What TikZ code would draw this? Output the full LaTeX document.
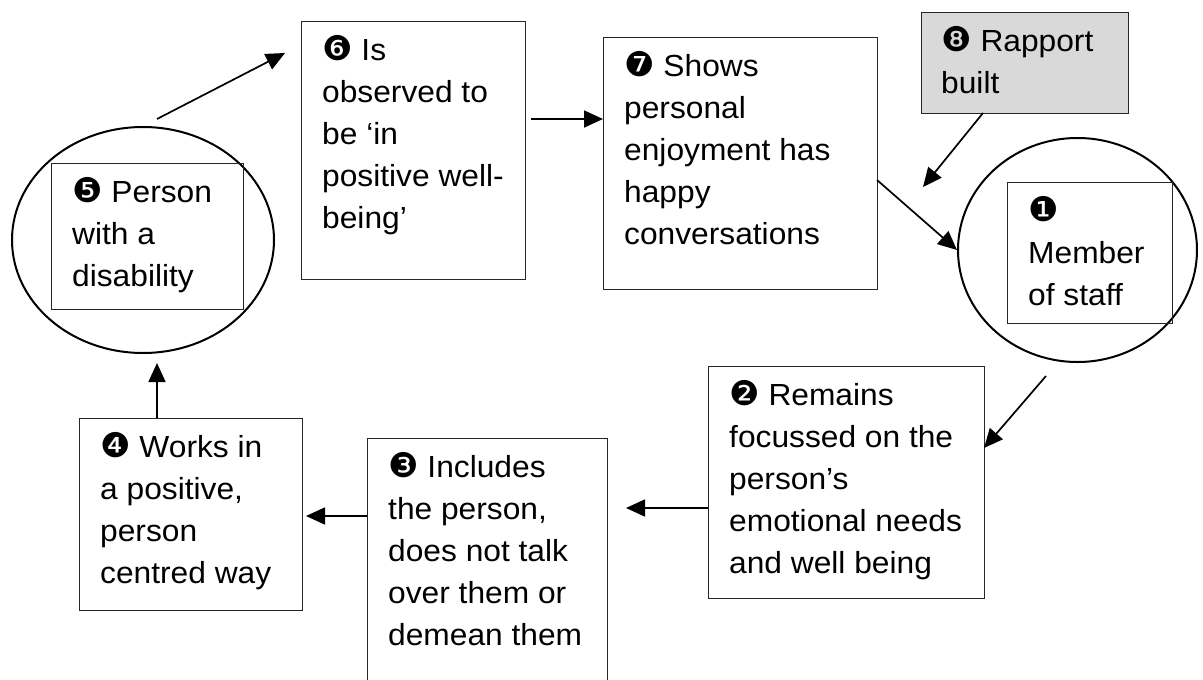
\documentclass[tikz,border=0pt]{standalone}
\usepackage{fontspec}
\setmainfont[FakeStretch=1.04]{Liberation Sans}
\newfontfamily\dingfont{DejaVu Sans}
\usetikzlibrary{arrows.meta,shapes.geometric}
% circled step numbers, kept out of the line height
\newcommand{\dnum}[1]{\smash{\dingfont\fontsize{34}{42}\selectfont #1}}

\begin{document}
\begin{tikzpicture}[x=1pt,y=-1pt,
  box/.style={draw=black!85, line width=1.3pt, anchor=north west, inner sep=0pt},
  ring/.style={draw=black, line width=2pt, ellipse, inner sep=0pt},
  txt/.style={anchor=north west, inner sep=0pt, align=left,
              font=\fontsize{30.5}{42}\selectfont},
  arr/.style={draw=black, line width=1.7pt, -{Triangle[length=19pt,width=17pt]}}
]
\useasboundingbox (0,0) rectangle (1203,680);
\clip (0,0) rectangle (1203,680);

% circles around the two people
\node[ring, minimum width=262, minimum height=226] (c5) at (143,240) {};
\node[ring, minimum width=239, minimum height=224] (c1) at (1077.5,250) {};

% boxes
\node[box, minimum width=192, minimum height=146] (b5) at (51,163) {};
\node[box, minimum width=224, minimum height=258] (b6) at (301,21) {};
\node[box, minimum width=274, minimum height=252] (b7) at (603,37) {};
\node[box, fill=black!15, minimum width=207, minimum height=101] (b8) at (921,12) {};
\node[box, minimum width=165, minimum height=141] (b1) at (1007,182) {};
\node[box, minimum width=276, minimum height=232] (b2) at (708,366) {};
\node[box, minimum width=240, minimum height=280] (b3) at (367,438) {};
\node[box, minimum width=223, minimum height=192] (b4) at (79,418) {};

% texts
\node[txt] (t5) at (72,172.6) {\strut\dnum{❺} Person\\with a\\disability};
\node[txt] (t6) at (322,30.6) {\strut\dnum{❻} Is\\observed to\\be ‘in\\positive well-\\being’};
\node[txt] (t7) at (624,46.6) {\strut\dnum{❼} Shows\\personal\\enjoyment has\\happy\\conversations};
\node[txt] (t8) at (941,21.6) {\strut\dnum{❽} Rapport\\built};
\node[txt] (t1) at (1028,191.6) {\strut\dnum{❶}\\Member\\of staff};
\node[txt] (t2) at (729,375.6) {\strut\dnum{❷} Remains\\focussed on the\\person’s\\emotional needs\\and well being};
\node[txt] (t3) at (388,447.6) {\strut\dnum{❸} Includes\\the person,\\does not talk\\over them or\\demean them};
\node[txt] (t4) at (100,427.6) {\strut\dnum{❹} Works in\\a positive,\\person\\centred way};

% free ends of the connectors
\coordinate (s56) at (157,119);
\coordinate (e56) at (285,53);
\coordinate (s67) at (531,119);
\coordinate (s71) at (877,180);
\coordinate (e8) at (923,187);
\coordinate (s8) at (983,113);
\coordinate (s12) at (1046,376);
\coordinate (e12) at (984,448);
\coordinate (s23) at (708,508);
\coordinate (e23) at (626,508);
\coordinate (s34) at (367,516);
\coordinate (e34) at (306,516);
\coordinate (s45) at (157,418);
\coordinate (e45) at (157,363);

% connectors
\draw[arr] (s56) -- (e56);
\draw[arr] (s67) -- (b7.west |- s67);
\draw[arr] (s71) -- (c1.west);
\draw[arr] (s8) -- (e8);
\draw[arr] (s12) -- (e12);
\draw[arr] (s23) -- (e23);
\draw[arr] (s34) -- (e34);
\draw[arr] (s45) -- (e45);
\end{tikzpicture}
\end{document}
